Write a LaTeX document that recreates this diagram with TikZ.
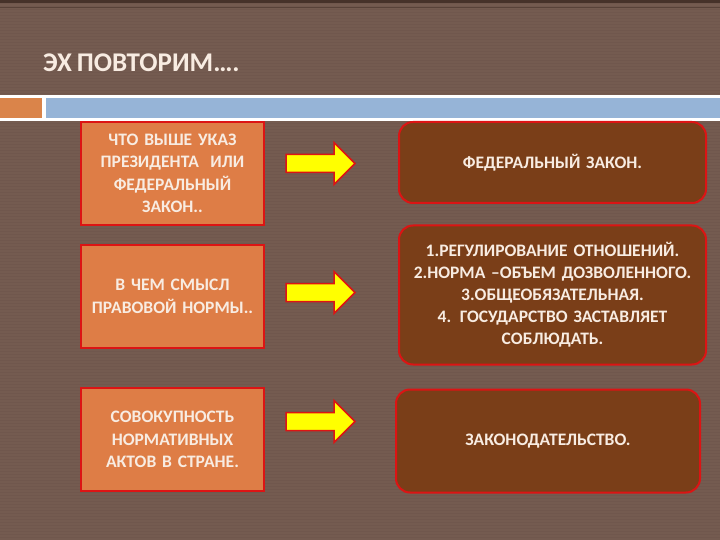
\documentclass[tikz,border=0pt]{standalone}
\usepackage{fontspec}
\setmainfont{Carlito}[WordSpace=0.8]
\definecolor{bg}{RGB}{116,91,80}
\definecolor{bgdark}{RGB}{70,50,42}
\definecolor{bandorange}{RGB}{218,132,74}
\definecolor{bandblue}{RGB}{150,180,215}
\definecolor{lbox}{RGB}{222,125,70}
\definecolor{rbox}{RGB}{122,62,24}
\definecolor{boxred}{RGB}{220,20,20}
\definecolor{txt}{RGB}{248,236,226}
\definecolor{arrowyellow}{RGB}{255,255,0}
\tikzset{
  leftbox/.style={draw=boxred, line width=2pt, fill=lbox, minimum width=183pt, minimum height=103pt, text width=178pt, align=center, text=txt, font=\bfseries\fontsize{17.5}{22.5}\selectfont, inner sep=0pt},
  rightbox/.style={draw=boxred, line width=2pt, fill=rbox, rounded corners=14pt, text width=300pt, align=center, text=txt, font=\bfseries\fontsize{17.5}{22}\selectfont, inner sep=0pt},
  yarrow/.style={draw=boxred, line width=1.5pt, fill=arrowyellow, line join=miter}
}
\begin{document}
\begin{tikzpicture}[x=1pt,y=-1pt]
\useasboundingbox (0,0) rectangle (720,540);
\fill[bg] (0,0) rectangle (720,540);
\foreach \k in {0,3,...,540} {\draw[bgdark, opacity=0.08, line width=0.6pt] (0,\k) -- (720,\k);}
\fill[bgdark] (0,0) rectangle (720,3);
\draw[bgdark!60!bg, line width=0.6pt] (0,7) -- (720,7);
% band
\fill[white] (0,95) rectangle (720,121);
\fill[bandorange] (0,98) rectangle (42,118);
\fill[bandblue] (46,98) rectangle (720,118);
% title
\node[anchor=west, text=txt, font=\bfseries\fontsize{27}{32}\selectfont, inner sep=0pt] (title) at (43,63) {ЭХ ПОВТОРИМ….};
% left boxes
\node[leftbox] (l1) at (172.5,173.5) {ЧТО ВЫШЕ УКАЗ\\ПРЕЗИДЕНТА \ ИЛИ\\ФЕДЕРАЛЬНЫЙ\\ЗАКОН..};
\node[leftbox] (l2) at (172.5,296.5) {В ЧЕМ СМЫСЛ\\ПРАВОВОЙ НОРМЫ..};
\node[leftbox] (l3) at (172.5,439.5) {СОВОКУПНОСТЬ\\НОРМАТИВНЫХ\\АКТОВ В СТРАНЕ.};
% right boxes
\node[rightbox, minimum width=307pt, minimum height=81pt] (r1) at (552.5,162.5) {ФЕДЕРАЛЬНЫЙ ЗАКОН.};
\node[rightbox, minimum width=307pt, minimum height=139pt] (r2) at (552.5,295) {1.РЕГУЛИРОВАНИЕ ОТНОШЕНИЙ.\\2.НОРМА –ОБЪЕМ ДОЗВОЛЕННОГО.\\3.ОБЩЕОБЯЗАТЕЛЬНАЯ.\\4. ГОСУДАРСТВО ЗАСТАВЛЯЕТ\\СОБЛЮДАТЬ.};
\node[rightbox, minimum width=304pt, minimum height=103pt] (r3) at (548,441) {ЗАКОНОДАТЕЛЬСТВО.};
% arrows
\foreach \c in {163.5, 292.5, 421.5} {
  \draw[yarrow] (286,\c-9) -- (334,\c-9) -- (334,\c-21) -- (355,\c) -- (334,\c+21) -- (334,\c+9) -- (286,\c+9) -- cycle;
}
\end{tikzpicture}
\end{document}
